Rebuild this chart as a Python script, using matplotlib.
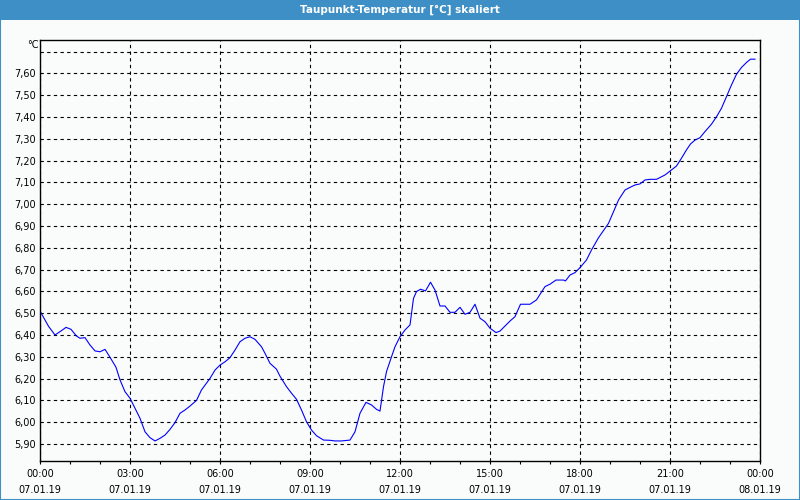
import matplotlib.pyplot as plt
from matplotlib.patches import Rectangle
from matplotlib.ticker import MultipleLocator, FuncFormatter

# Minuten ab 07.01.19 00:00 und Taupunkt in °C
minutes = [0, 17, 30, 43, 52, 62, 73, 80, 90, 100, 110, 120, 130, 140, 152, 160,
           170, 180, 190, 200, 210, 220, 230, 240, 250, 260, 270, 280, 290, 300,
           313, 323, 340, 350, 360, 370, 380, 390, 400, 410, 420, 430, 443, 450,
           460, 473, 480, 493, 503, 513, 523, 533, 543, 553, 567, 580, 590, 603,
           620, 630, 640, 652, 663, 673, 680, 687, 693, 703, 710, 720, 730, 740,
           747, 753, 761, 771, 781, 790, 800, 810, 820, 830, 840, 850, 860, 870,
           880, 890, 900, 912, 920, 930, 940, 950, 961, 980, 993, 1010, 1020,
           1032, 1047, 1051, 1060, 1070, 1080, 1093, 1103, 1117, 1130, 1137,
           1147, 1157, 1170, 1180, 1190, 1200, 1210, 1220, 1233, 1250, 1260,
           1273, 1283, 1293, 1301, 1310, 1320, 1330, 1343, 1353, 1363, 1373,
           1383, 1393, 1403, 1413, 1421, 1430]
dewpoint = [6.51, 6.44, 6.40, 6.42, 6.435, 6.426, 6.395, 6.385, 6.388, 6.354,
            6.327, 6.323, 6.334, 6.298, 6.252, 6.194, 6.14, 6.11, 6.064, 6.018,
            5.956, 5.929, 5.914, 5.926, 5.941, 5.967, 5.998, 6.041, 6.056, 6.074,
            6.10, 6.148, 6.201, 6.239, 6.262, 6.277, 6.296, 6.331, 6.369, 6.385,
            6.392, 6.380, 6.346, 6.316, 6.270, 6.243, 6.211, 6.163, 6.133, 6.105,
            6.056, 6.002, 5.964, 5.938, 5.918, 5.917, 5.914, 5.914, 5.918, 5.956,
            6.041, 6.091, 6.079, 6.059, 6.051, 6.163, 6.232, 6.300, 6.346, 6.392,
            6.423, 6.446, 6.568, 6.599, 6.610, 6.602, 6.642, 6.606, 6.533, 6.533,
            6.504, 6.504, 6.527, 6.495, 6.504, 6.541, 6.477, 6.461, 6.431, 6.411,
            6.418, 6.441, 6.464, 6.484, 6.541, 6.541, 6.561, 6.622, 6.633, 6.652,
            6.652, 6.648, 6.675, 6.686, 6.709, 6.744, 6.790, 6.846, 6.889, 6.912,
            6.966, 7.019, 7.065, 7.077, 7.088, 7.093, 7.111, 7.114, 7.114, 7.134,
            7.152, 7.175, 7.211, 7.249, 7.276, 7.294, 7.305, 7.333, 7.367, 7.401,
            7.440, 7.493, 7.547, 7.596, 7.627, 7.650, 7.665, 7.665]

title = "Taupunkt-Temperatur [°C] skaliert"
bar_blue = "#3d8fc6"
bg = "#fafcfb"

hours = [m / 60 for m in minutes]

fig = plt.figure(figsize=(8, 5), dpi=100, facecolor=bg)

# Titelleiste und Rahmen
fig.patches.append(Rectangle((0, 0.96), 1, 0.04, transform=fig.transFigure,
                             facecolor=bar_blue, edgecolor="none", zorder=0))
fig.patches.append(Rectangle((0.0006, 0.001), 0.9988, 0.998, transform=fig.transFigure,
                             facecolor="none", edgecolor=bar_blue, linewidth=1.5, zorder=5))
fig.text(0.5, 0.98, title, color="white", ha="center", va="center",
         fontsize=7.5, fontweight="bold")

ax = fig.add_axes([0.05, 0.078, 0.9, 0.842])
ax.set_facecolor(bg)
ax.plot(hours, dewpoint, color="#0000ff", linewidth=0.8)

ax.set_xlim(0, 24)
ax.set_ylim(5.822, 7.753)
ax.xaxis.set_major_locator(MultipleLocator(3))
ax.xaxis.set_minor_locator(MultipleLocator(1))
ax.yaxis.set_major_locator(MultipleLocator(0.1))


def xlabel(h, pos):
    day = "07.01.19" if h < 24 else "08.01.19"
    return f"{int(h) % 24:02d}:00\n{day}"


def ylabel(v, pos):
    if v > 7.65:
        return ""
    return f"{v:.2f}".replace(".", ",")


ax.xaxis.set_major_formatter(FuncFormatter(xlabel))
ax.yaxis.set_major_formatter(FuncFormatter(ylabel))

ax.grid(True, which="major", color="black", linestyle=(0, (3, 3)), linewidth=0.8)
ax.tick_params(axis="x", which="both", length=2.5, width=0.8, labelsize=7, pad=3)
ax.tick_params(axis="y", length=0, labelsize=7, pad=3)
for lbl in ax.get_xticklabels():
    lbl.set_linespacing(1.75)
for s in ax.spines.values():
    s.set_linewidth(1.0)

fig.text(0.048, 0.91, "°C", ha="right", va="center", fontsize=7)

fig.savefig("out.png", dpi=100, facecolor=bg)
